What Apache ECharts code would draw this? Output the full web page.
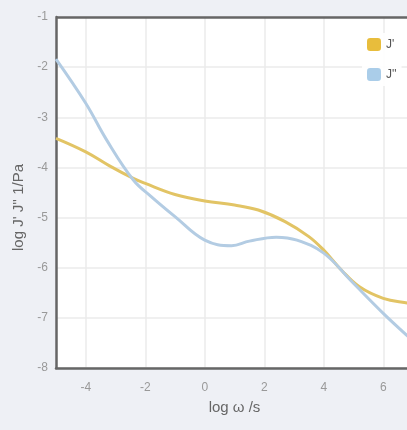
<!DOCTYPE html>
<html><head><meta charset="utf-8">
<script src="https://cdn.jsdelivr.net/npm/echarts@6/dist/echarts.min.js"></script>
<style>html,body{margin:0;padding:0;overflow:hidden;background:#eef0f5;width:407px;height:430px}#c{width:420px;height:430px}</style>
</head><body><div id="c"></div>
<script>
const xStorage = [-5, -4, -3.2, -2.4, -2, -1, 0, 1, 1.8, 2.7, 3.5, 4, 4.6, 5.2, 6, 6.85, 7];
const jPrime = [-3.42, -3.69, -3.97, -4.22, -4.32, -4.54, -4.67, -4.75, -4.85, -5.08, -5.38, -5.65, -6.05, -6.38, -6.61, -6.71, -6.73];
const xLoss = [-5, -4, -3.3, -2.4, -1.8, -1, 0, 0.9, 1.5, 2.4, 3.1, 4, 4.9, 6, 6.85, 7];
const jDouble = [-1.84, -2.72, -3.45, -4.25, -4.58, -4.98, -5.45, -5.56, -5.47, -5.39, -5.45, -5.71, -6.25, -6.91, -7.38, -7.46];
const seriesNames = ["J'", "J''"];
const xTicks = [-4, -2, 0, 2, 4, 6];

const chart = echarts.init(document.getElementById('c'));
const axisCol = '#999';
const ff = 'Liberation Sans';
chart.setOption({
  backgroundColor: '#eef0f5',
  animation: false,
  grid: { left: 56, top: 17, bottom: 62, right: 7, show: true, backgroundColor: '#fff', borderWidth: 0 },
  legend: {
    orient: 'vertical', left: 362, top: 33, itemWidth: 14, itemHeight: 13, itemGap: 17,
    backgroundColor: 'rgba(255,255,255,0.9)',
    textStyle: { color: '#555', fontSize: 12, fontFamily: ff },
    data: [{ name: seriesNames[0], icon: 'roundRect' }, { name: seriesNames[1], icon: 'roundRect' }]
  },
  xAxis: {
    type: 'value', min: -5, max: 7,
    name: 'log ω /s', nameLocation: 'middle', nameGap: 32,
    nameTextStyle: { color: '#666', fontSize: 15, fontFamily: ff },
    axisLine: { show: true, onZero: false, lineStyle: { color: '#666', width: 2.5 } },
    axisTick: { show: false, customValues: xTicks },
    axisLabel: { color: axisCol, fontSize: 12, fontFamily: ff, margin: 14,
      customValues: xTicks },
    splitLine: { show: true, lineStyle: { color: '#ebebeb', width: 1.5 } }
  },
  yAxis: {
    type: 'value', min: -8, max: -1, interval: 1,
    name: "log J' J'' 1/Pa", nameLocation: 'middle', nameGap: 30,
    nameTextStyle: { color: '#666', fontSize: 15, fontFamily: ff, padding: [0, 30, 0, 0] },
    axisLine: { show: true, onZero: false, lineStyle: { color: '#666', width: 2.5 } },
    axisTick: { show: false },
    axisLabel: { color: axisCol, fontSize: 12, fontFamily: ff, margin: 8 },
    splitLine: { show: true, lineStyle: { color: '#ebebeb', width: 1.5 } }
  },
  series: [
    { name: seriesNames[0], type: 'line', smooth: 0.4, symbol: 'none',
      itemStyle: { color: '#e8bd3c' },
      lineStyle: { color: '#e2c465', width: 3 },
      data: xStorage.map((x, i) => [x, jPrime[i]]) },
    { name: seriesNames[1], type: 'line', smooth: 0.4, symbol: 'none',
      itemStyle: { color: '#aacde9' },
      lineStyle: { color: '#b3cce3', width: 3 },
      data: xLoss.map((x, i) => [x, jDouble[i]]) },
    { type: 'line', data: [], silent: true, markLine: { symbol: 'none', silent: true, label: { show: false },
      lineStyle: { color: '#666', width: 2.5, type: 'solid' }, data: [{ yAxis: -1 }] } }
  ]
});
</script></body></html>
